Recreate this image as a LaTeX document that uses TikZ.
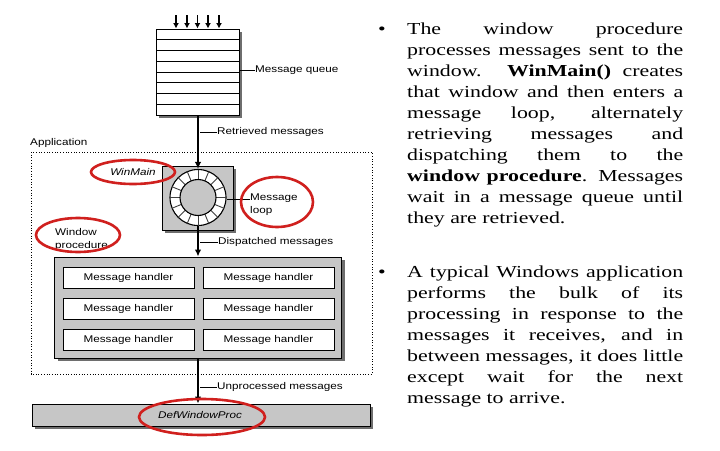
\documentclass[tikz,border=0pt]{standalone}
\usepackage{fontspec}
\setmainfont{Liberation Serif}
\newfontfamily\bodyfont{Liberation Serif}[FakeStretch=1.3]
\newfontfamily\diagfont{Liberation Sans}[FakeStretch=1.2]
\usetikzlibrary{arrows.meta}
\definecolor{boxgray}{HTML}{C6C6C6}
\definecolor{shadowgray}{HTML}{6E6E6E}
\definecolor{ellred}{HTML}{D0201E}
\newcommand{\parsetup}{\noindent\hyphenpenalty=10000 \exhyphenpenalty=10000 \tolerance=10000 \pretolerance=10000 }
\begin{document}
\begin{tikzpicture}[x=1pt,y=-1pt,
  lbl/.style={font=\diagfont\fontsize{9.75}{12.5}\selectfont, inner sep=0, anchor=west, align=left},
  flow/.style={line width=1.6pt, -{Latex[length=7pt,width=6.5pt]}},
  inflow/.style={line width=1.8pt, -{Latex[length=5.5pt,width=6pt]}},
  leader/.style={line width=0.9pt},
  graybox/.style={draw=black, line width=0.9pt, fill=boxgray, inner sep=0},
  handler/.style={draw=black, fill=white, line width=0.9pt, minimum width=131pt, minimum height=21pt, inner sep=0, font=\diagfont\fontsize{9.75}{11}\selectfont},
  redring/.style={draw=ellred, line width=2.6pt},
  bodytext/.style={font=\bodyfont\fontsize{16.8}{21}\selectfont,
     text width=276pt, align=justify, inner sep=0, anchor=north west},
  bullet/.style={font=\bodyfont\fontsize{16.8}{21}\selectfont, inner sep=0, anchor=base}
]
\useasboundingbox (0,0) rectangle (720,450);
\fill[white] (0,0) rectangle (720,450);

% ---------- message queue ----------
\fill[shadowgray] (159,31.5) rectangle (242,117.5);
\node[draw=black, fill=white, line width=1pt, minimum width=83pt, minimum height=86pt, inner sep=0] (queue) at (198,72) {};
\foreach \i in {1,...,7} \draw[line width=0.8pt] (queue.west |- 0,{29+10.75*\i}) -- (queue.east |- 0,{29+10.75*\i});
\foreach \x [count=\k] in {176,187,197.5,208,219} {
  \coordinate (in\k) at (\x,15);
  \draw[inflow] (in\k) -- (in\k |- queue.north);
}
\coordinate (mqa) at (queue.east |- 0,70);
\node[lbl] (mq) at (255,70) {Message queue};
\draw[leader] (mqa) -- (mq.west);

% ---------- application frame ----------
\node[lbl] (app) at (30,143) {Application};
\draw[dotted, line width=0.7pt] (31,152) rectangle (372,374);

% ---------- message loop ----------
\fill[shadowgray] (164.5,168.5) rectangle (236,232.5);
\node[graybox, minimum width=71pt, minimum height=64pt] (loopbox) at (198,198) {};
\node[circle, draw=black, line width=1.1pt, fill=white, minimum size=56pt, inner sep=0] (ring) at (198,197.5) {};
\foreach \a in {0,22.5,...,337.5}
  \draw[line width=0.9pt, black!75] ([shift={(\a:18pt)}]ring.center) -- ([shift={(\a:28pt)}]ring.center);
\node[circle, draw=black, line width=1.1pt, fill=boxgray, minimum size=36pt, inner sep=0] (hub) at (ring.center) {};
\node[lbl, anchor=north west] (ml) at (250,194) {Message\\loop};
\draw[leader] (ring.east |- 0,199) -- (ml.west |- 0,199);

\draw[flow] (queue.south) -- (ring.north);
\coordinate (rta) at (200,132);
\node[lbl] (rt) at (217,132) {Retrieved messages};
\draw[leader] (rta) -- (rt.west);

\node[lbl, anchor=center, font=\diagfont\itshape\fontsize{9.75}{11}\selectfont] (winmain) at (133,172) {WinMain};
\node[lbl] (wp) at (55,239.5) {Window\\procedure};

% ---------- message handlers ----------
\fill[shadowgray] (57.5,259.5) rectangle (344.5,360.5);
\node[graybox, minimum width=287pt, minimum height=101pt] (handlers) at (198,307.5) {};
\node[handler] (h11) at (128.5,277.5) {Message handler};
\node[handler] (h12) at (268.5,277.5) {Message handler};
\node[handler] (h21) at (128.5,308.5) {Message handler};
\node[handler] (h22) at (268.5,308.5) {Message handler};
\node[handler] (h31) at (128.5,339.5) {Message handler};
\node[handler] (h32) at (268.5,339.5) {Message handler};

\draw[flow] (ring.south) -- (ring.south |- handlers.north);
\coordinate (dma) at (200,242);
\node[lbl] (dm) at (218,242) {Dispatched messages};
\draw[leader] (dma) -- (dm.west);

% ---------- DefWindowProc ----------
\fill[shadowgray] (34.5,406.5) rectangle (372.5,428.5);
\node[graybox, minimum width=338pt, minimum height=22pt] (defproc) at (201,415) {};
\node[lbl, anchor=center, font=\diagfont\itshape\fontsize{9.75}{11}\selectfont] (dwp) at (200,415) {DefWindowProc};
\draw[flow] (handlers.south) -- (handlers.south |- defproc.north);
\coordinate (uma) at (200,387);
\node[lbl] (um) at (217,387) {Unprocessed messages};
\draw[leader] (uma) -- (um.west);

% ---------- red highlight ellipses ----------
\draw[redring] (winmain.center) ellipse [x radius=42pt, y radius=12pt];
\draw[redring] (277,202) ellipse [x radius=36pt, y radius=25pt];
\draw[redring] (78,235) ellipse [x radius=42pt, y radius=17pt];
\draw[redring] (202,417) ellipse [x radius=63pt, y radius=18pt];

% ---------- right-hand text ----------
\node[bullet] (b1) at (382,34) {•};
\node[bodytext] (p1) at (407,22.5) {\parsetup The window procedure\linebreak processes messages sent to the\linebreak window. \textbf{WinMain()} creates\linebreak that window and then enters a\linebreak message loop, alternately\linebreak retrieving messages and\linebreak dispatching them to the\linebreak \textbf{window procedure}. Messages\linebreak wait in a message queue until\linebreak they are retrieved.};
\node[bullet] (b2) at (382,277) {•};
\node[bodytext] (p2) at (407,265.5) {\parsetup A typical Windows application\linebreak performs the bulk of its\linebreak processing in response to the\linebreak messages it receives, and in\linebreak between messages, it does little\linebreak except wait for the next\linebreak message to arrive.};
\end{tikzpicture}
\end{document}
